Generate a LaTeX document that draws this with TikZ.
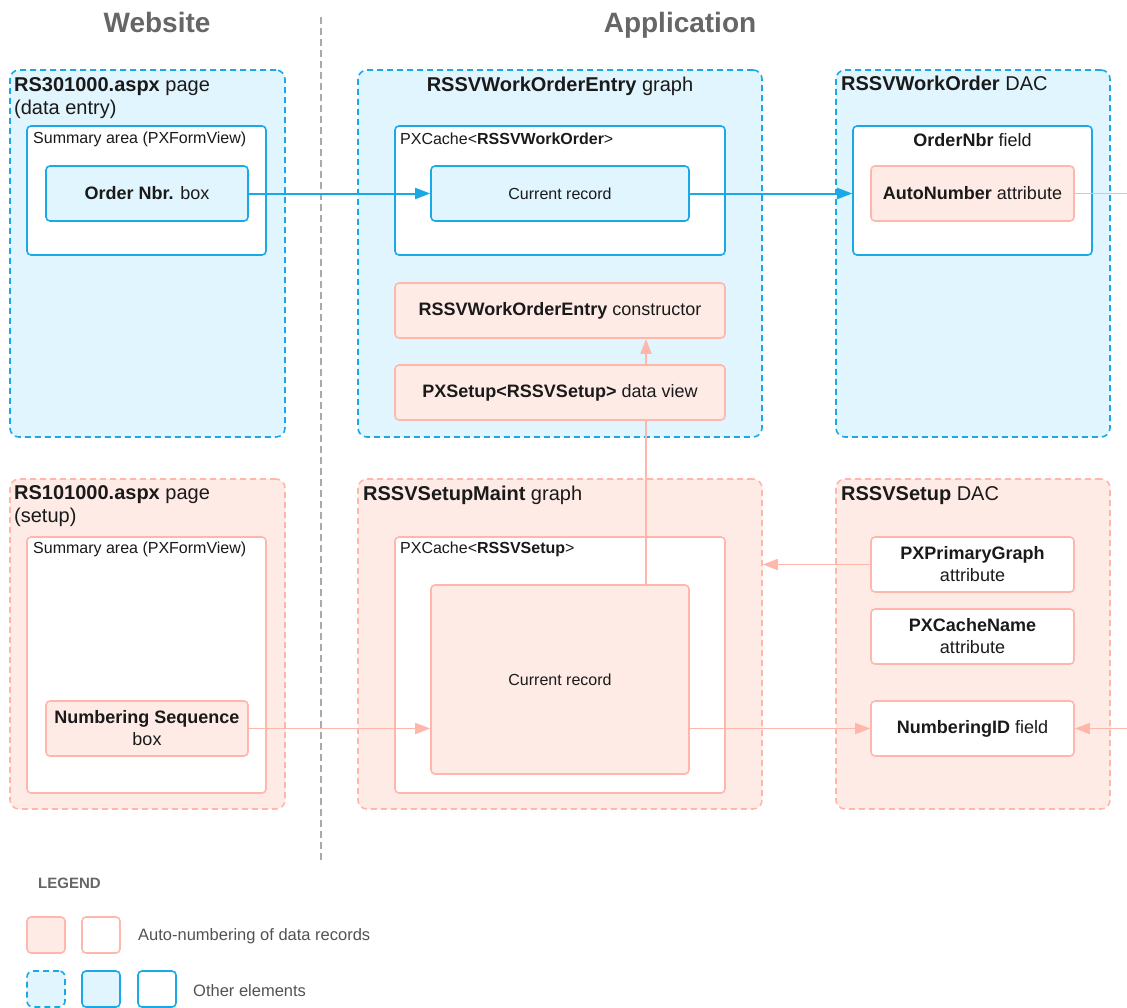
\documentclass[tikz,border=0pt]{standalone}
\usepackage{fontspec}
\setmainfont{Liberation Sans}
\usetikzlibrary{arrows.meta}

\definecolor{blueline}{HTML}{1AA9E6}
\definecolor{bluefill}{HTML}{E1F5FE}
\definecolor{pinkline}{HTML}{FFB7AB}
\definecolor{pinkfill}{HTML}{FFEBE6}
\definecolor{headgray}{HTML}{666666}
\definecolor{sepgray}{HTML}{AAAAAA}
\definecolor{ink}{HTML}{1A1A1A}

\newcommand\ttlfnt{\fontsize{20}{23}\selectfont}
\newcommand\boxfnt{\fontsize{18}{22}\selectfont}
\newcommand\smallfnt{\fontsize{16}{19}\selectfont}
\newcommand\headfnt{\fontsize{28}{32}\selectfont}

\tikzset{
  wh/.style 2 args={minimum width=#1, minimum height=#2},
  box/.style={inner sep=0pt, line width=1.6pt, rounded corners=4pt, font=\boxfnt, text=ink, align=center},
  outer/.style={box, dash pattern=on 6pt off 4pt, rounded corners=9pt},
  blueouter/.style={outer, draw=blueline, fill=bluefill},
  pinkouter/.style={outer, draw=pinkline, fill=pinkfill},
  bluebox/.style={box, draw=blueline, fill=bluefill},
  whiteblue/.style={box, draw=blueline, fill=white},
  pinkbox/.style={box, draw=pinkline, fill=pinkfill},
  whitepink/.style={box, draw=pinkline, fill=white},
  ttl/.style={inner sep=0pt, font=\ttlfnt, text=ink, align=left},
  sub/.style={inner sep=0pt, font=\smallfnt, text=ink},
  head/.style={inner sep=0pt, font=\headfnt\bfseries, text=headgray},
  bluearrow/.style={draw=blueline, line width=2pt, -{Triangle[length=15pt,width=11pt]}},
  pinkarrow/.style={draw=pinkline, line width=1.8pt, -{Triangle[length=15pt,width=11pt]}}
}

\begin{document}
\begin{tikzpicture}[x=1pt, y=-1pt]
  \useasboundingbox (0,0) rectangle (1127,1007);

  % headings and separator
  \node[head, anchor=base] (website) at (157,32) {Website};
  \node[head, anchor=base] (application) at (680,32) {Application};
  \draw[sepgray, line width=2pt, dash pattern=on 7pt off 4pt] (321,17) -- (321,860);

  % data entry side
  \node[blueouter, wh={275pt}{367pt}] (entrypage) at (147.5,253.5) {};
  \node[ttl, anchor=north west] at (14,77) {\textbf{RS301000.aspx} page\\(data entry)};
  \node[whiteblue, wh={239pt}{129pt}] (entrysum) at (146.5,190.5) {};
  \node[sub, anchor=west] at (33,139) {Summary area (PXFormView)};
  \node[bluebox, wh={202pt}{55pt}] (ordbox) at (147,193.5) {\textbf{Order Nbr.} box};

  \node[blueouter, wh={404pt}{367pt}] (wograph) at (560,253.5) {};
  \node[ttl, anchor=north] at (560,77) {\textbf{RSSVWorkOrderEntry} graph};
  \node[whiteblue, wh={330pt}{129pt}] (wocache) at (560,190.5) {};
  \node[sub, anchor=west] at (400,139) {PXCache<\textbf{RSSVWorkOrder}>};
  \node[bluebox, wh={258pt}{55pt}, font=\smallfnt] (worec) at (560,193.5) {Current record};
  \node[pinkbox, wh={330pt}{55pt}] (ctor) at (560,310.5) {\textbf{RSSVWorkOrderEntry} constructor};

  \node[blueouter, wh={274pt}{367pt}] (wodac) at (973,253.5) {};
  \node[ttl, anchor=north west] at (841,76) {\textbf{RSSVWorkOrder} DAC};
  \node[whiteblue, wh={239pt}{129pt}] (ordfield) at (972.5,190.5) {};
  \node[box, anchor=center] at (972.5,140) {\textbf{OrderNbr} field};
  \node[pinkbox, wh={203pt}{55pt}] (autonum) at (972.5,193.5) {\textbf{AutoNumber} attribute};

  % setup side
  \node[pinkouter, wh={275pt}{330pt}] (setuppage) at (147.5,644) {};
  \node[ttl, anchor=north west] at (14,485) {\textbf{RS101000.aspx} page\\(setup)};
  \node[whitepink, wh={239pt}{256pt}] (setupsum) at (146.5,665) {};
  \node[sub, anchor=west] at (33,549) {Summary area (PXFormView)};
  \node[pinkbox, wh={202pt}{55pt}] (numseq) at (147,728.5) {\textbf{Numbering Sequence}\\box};

  \node[pinkouter, wh={404pt}{330pt}] (setupgraph) at (560,644) {};
  \node[ttl, anchor=north west] at (363,486) {\textbf{RSSVSetupMaint} graph};
  \node[whitepink, wh={330pt}{256pt}] (setupcache) at (560,665) {};
  \node[sub, anchor=west] at (400,549) {PXCache<\textbf{RSSVSetup}>};
  \node[pinkbox, wh={258pt}{189pt}, font=\smallfnt] (setuprec) at (560,679.5) {Current record};

  \node[pinkouter, wh={274pt}{330pt}] (setupdac) at (973,644) {};
  \node[ttl, anchor=north west] at (841,486) {\textbf{RSSVSetup} DAC};
  \node[whitepink, wh={203pt}{55pt}] (pxprim) at (972.5,564.5) {\textbf{PXPrimaryGraph}\\attribute};
  \node[whitepink, wh={203pt}{55pt}] (pxcname) at (972.5,636.5) {\textbf{PXCacheName}\\attribute};
  \node[whitepink, wh={203pt}{55pt}] (numid) at (972.5,728.5) {\textbf{NumberingID} field};

  % record to constructor, passes behind the data view box
  \draw[pinkarrow] ([xshift=86pt]setuprec.north) -- ([xshift=86pt]ctor.south);
  \node[pinkbox, wh={330pt}{55pt}] (pxsetup) at (560,392.5) {\textbf{PXSetup<RSSVSetup>} data view};

  \coordinate (autoout) at (1127,193.5);
  \coordinate (numin) at (1127,728.5);

  \draw[bluearrow] (ordbox.east) -- (worec.west);
  \draw[bluearrow] (worec.east) -- (worec.east -| ordfield.west);
  \draw[pinkline, line width=1.8pt] (autonum.east) -- (autoout);
  \draw[pinkarrow] (numin) -- (numid.east);
  \draw[pinkarrow] (numseq.east) -- (numseq.east -| setuprec.west);
  \draw[pinkarrow] (setuprec.east |- numid.west) -- (numid.west);
  \draw[pinkarrow] (pxprim.west) -- (pxprim.west -| setupgraph.east);

  % legend
  \node[inner sep=0pt, anchor=base west, font=\fontsize{15}{18}\selectfont\bfseries, text=headgray] (legend) at (38,888) {LEGEND};
  \node[pinkbox, wh={38pt}{36pt}] (lgpink) at (46,935) {};
  \node[whitepink, wh={38pt}{36pt}] (lgpinkw) at (101,935) {};
  \node[sub, anchor=west, font=\fontsize{16.5}{20}\selectfont, text=headgray!80!black] at (138,936) {Auto-numbering of data records};
  \node[blueouter, wh={38pt}{36pt}, rounded corners=6pt] (lgblued) at (46,989) {};
  \node[bluebox, wh={38pt}{36pt}] (lgblue) at (101,989) {};
  \node[whiteblue, wh={38pt}{36pt}] (lgbluew) at (157,989) {};
  \node[sub, anchor=west, font=\fontsize{16.5}{20}\selectfont, text=headgray!80!black] at (193,991) {Other elements};
\end{tikzpicture}
\end{document}
